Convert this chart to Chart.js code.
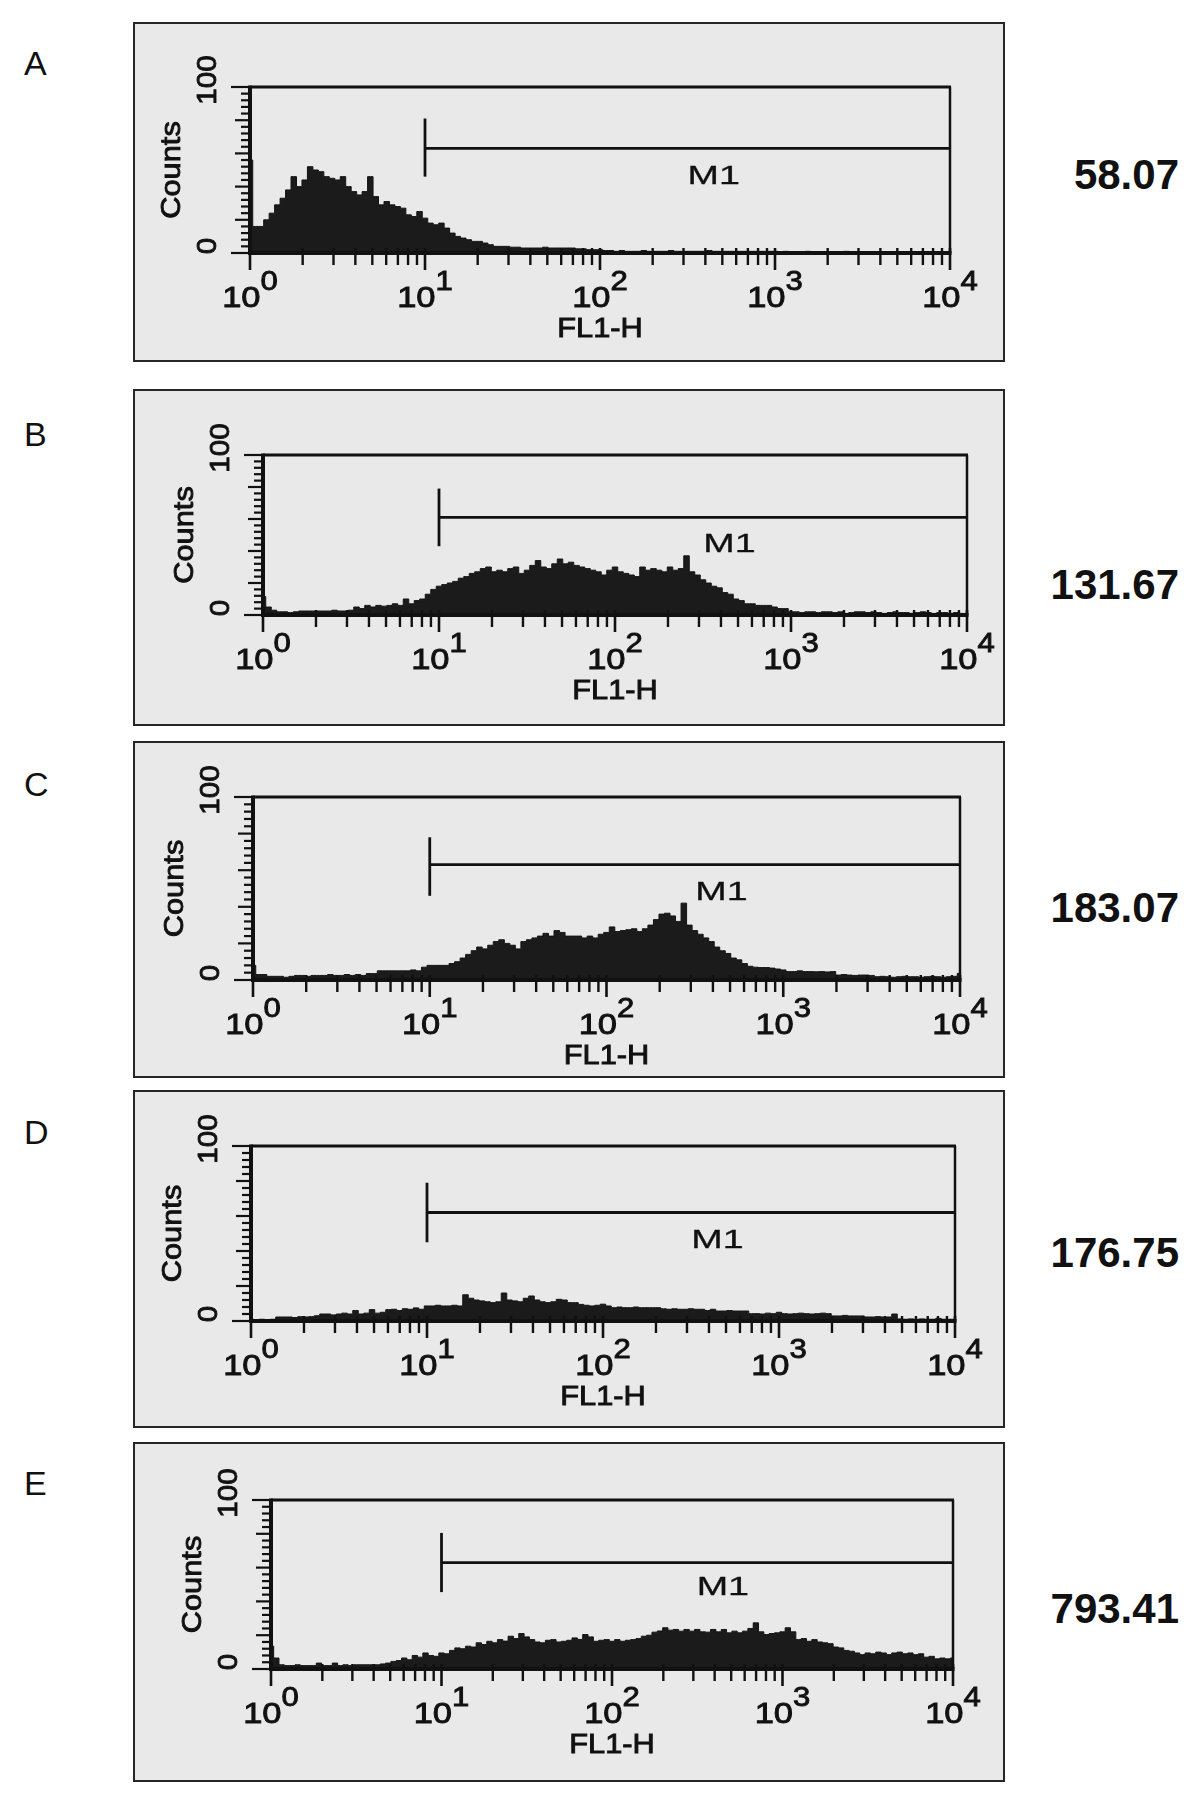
<!DOCTYPE html>
<html>
<head>
<meta charset="utf-8">
<title>FL1-H histograms</title>
<script src="https://cdn.jsdelivr.net/npm/chart.js@4.4.1/dist/chart.umd.min.js"></script>
<style>
  html, body { margin: 0; padding: 0; background: #fff; }
  body { position: relative; width: 1200px; height: 1802px; overflow: hidden;
         font-family: "Liberation Sans", Arial, Helvetica, sans-serif; color: #111; }
  .frame { position: absolute; left: 133px; width: 872px; box-sizing: border-box;
           border: 2px solid #262626; background: #e9e9e9; }
  canvas.panel { position: absolute; left: 133px; }
  .tag { position: absolute; left: 24px; font-size: 34px; line-height: 34px; }
  .val { position: absolute; right: 21px; font-size: 42px; line-height: 42px; font-weight: bold; }
</style>
</head>
<body>
<script>
// panel letters and the mean FL1 value printed to the right of each histogram
const panelLabels = ['A', 'B', 'C', 'D', 'E'];
const meanValues = ['58.07', '131.67', '183.07', '176.75', '793.41'];

// histogram channels (256-channel, 4-decade log amplifier), every 2nd channel
const channels = [
  0, 2, 4, 6, 8, 10, 12, 14, 16, 18, 20, 22, 24, 26, 28, 30,
  32, 34, 36, 38, 40, 42, 44, 46, 48, 50, 52, 54, 56, 58, 60, 62,
  64, 66, 68, 70, 72, 74, 76, 78, 80, 82, 84, 86, 88, 90, 92, 94,
  96, 98, 100, 102, 104, 106, 108, 110, 112, 114, 116, 118, 120, 122, 124, 126,
  128, 130, 132, 134, 136, 138, 140, 142, 144, 146, 148, 150, 152, 154, 156, 158,
  160, 162, 164, 166, 168, 170, 172, 174, 176, 178, 180, 182, 184, 186, 188, 190,
  192, 194, 196, 198, 200, 202, 204, 206, 208, 210, 212, 214, 216, 218, 220, 222,
  224, 226, 228, 230, 232, 234, 236, 238, 240, 242, 244, 246, 248, 250, 252, 254,
  256
];

// counts per channel
const countsA = [
  56, 16, 16, 20, 24, 29, 33, 38, 46, 40, 44,
  52, 50, 49, 46, 45, 44, 46, 40, 37, 35,
  37, 46, 34, 29, 31, 29, 28, 27, 23, 22,
  25, 21, 18, 17, 18, 15, 12, 10, 9, 8,
  7, 7, 6, 5, 4, 4, 4, 3.5, 3.5, 3,
  3, 3, 3, 3.5, 3, 3, 3, 3, 3, 2.5,
  2.5, 2, 2, 2, 1.5, 1.5, 1, 1.5, 1, 1,
  1, 1.5, 1, 1, 1, 1, 1.5, 1, 1, 1,
  1, 1, 1, 1.5, 1, 1, 1, 1, 1, 1,
  1, 1, 1, 1, 1, 1, 0.5, 1, 0.5, 0.5,
  0.5, 1, 0.5, 0.5, 0.5, 0.5, 0.5, 0.5, 1, 0.5,
  0.5, 0.5, 0.5, 0.5, 0.5, 0.5, 0.5, 0.5, 0.5, 0.5,
  0.5, 0.5, 0.5, 0.5, 0.5, 0.5, 0.5, 0.5
];
const countsB = [
  11.5, 5, 3, 2, 2, 1.5, 2, 2.5, 2.5, 2.5, 2.5,
  2.5, 2.5, 3, 2.5, 2.5, 3, 5, 4, 6, 5,
  6, 5.5, 6, 7, 6, 10, 7, 9, 10, 13,
  16, 18, 19, 20, 21, 23, 24, 26, 27, 29,
  30, 27, 28, 27, 29, 30, 26, 28, 31, 34,
  30, 29, 32, 35, 32, 33, 31, 30, 29, 28,
  27, 25, 28, 30, 27, 26, 25, 24, 30, 28,
  29, 28, 27, 30, 28, 29, 37, 27, 25, 22,
  20, 18, 17, 14, 13, 10, 9, 7, 7, 6,
  6, 6, 5, 4, 4, 2, 2, 1.5, 2, 2,
  1.5, 2, 2, 1.5, 2, 1, 1.5, 2, 2, 1.5,
  2, 1.5, 1, 1.5, 2, 1.5, 1.5, 1, 1.5, 2,
  1.5, 1, 1.5, 1.5, 1, 1.5, 1, 1
];
const countsC = [
  8, 3, 3, 2, 2, 2, 1.5, 2, 2.5, 2.5, 2,
  2.5, 2.5, 2.5, 3, 2.5, 2.5, 3, 2.5, 3, 2.5,
  3.5, 3.5, 5, 5, 5, 5, 5, 5, 5.5, 5,
  7, 8, 8, 8, 8, 9, 10, 12, 14, 16,
  18, 17, 19, 21, 22, 20, 19, 17, 21, 22,
  23, 24, 25.5, 24, 27, 26, 24, 24, 24, 23,
  24, 23, 25, 26, 29, 26.5, 27, 27.5, 28, 26.5,
  28, 30, 33, 36, 36.5, 35, 32, 42, 30, 27,
  25, 23, 21, 18, 16, 14.5, 12, 11, 9, 7.5,
  7, 6.8, 6.8, 6.5, 6, 5.5, 4.6, 4.6, 5, 4.6,
  4.6, 4.5, 4.6, 4.4, 4.6, 2.7, 3, 2.7, 2.5, 2.7,
  2.7, 2.5, 1.8, 2, 1.8, 1.5, 1.8, 2, 1.8, 1.8,
  1.5, 1.8, 2, 1.8, 1.5, 1.8, 2, 3.6
];
const countsD = [
  1, 0.5, 1, 0.5, 1, 2.3, 2.3, 2.3, 2, 2.5, 2.3,
  2.5, 3, 4, 4, 3.5, 4, 4.5, 4, 6, 4,
  4.5, 6.5, 4.5, 5, 6.5, 6.7, 6, 7, 6.7, 7.5,
  6.7, 8.6, 8.6, 9, 8.6, 8.6, 9, 8.6, 15, 13,
  12, 11.5, 11, 10.5, 11, 16, 12, 11.5, 11, 13,
  14.3, 12, 11, 10.5, 11, 12.4, 12, 10.5, 10.5, 9.5,
  9, 8.6, 9, 9.6, 8.6, 7.6, 8, 7.6, 7.6, 8,
  7.6, 7.6, 7.6, 7.6, 7, 6.7, 7, 6.7, 6.7, 7,
  6.7, 6.7, 6, 6.7, 5.7, 5.7, 6, 5.7, 5.7, 5.7,
  4.2, 4.2, 4, 4.5, 4.2, 5, 4.2, 4, 4.2, 4.5,
  4.2, 4, 4.2, 4.5, 4.2, 2.9, 2.9, 3.2, 2.9, 2.9,
  2.9, 2.3, 2.3, 2.5, 2.3, 2.3, 4, 1.2, 1, 1.2,
  1, 1.2, 1, 1, 1.5, 1, 1, 1
];
const countsE = [
  13.5, 6.5, 2.5, 2, 2, 2.5, 2, 2, 2, 3.5, 2,
  2, 3.5, 2, 2.5, 2, 2.5, 2.5, 2.5, 2.5, 2.5,
  3, 3.5, 4.5, 5, 6.5, 5.5, 8, 7, 9.5, 8,
  7.5, 9.5, 9, 11, 12.5, 12, 13.5, 13, 15.5, 14.5,
  16.4, 15.5, 17.4, 16.5, 19.4, 18, 21, 19, 17.4, 16,
  15.5, 17, 17.4, 16, 16.4, 17, 18.4, 17.5, 20.4, 19,
  16.4, 17, 17.4, 16.4, 17.4, 16.4, 17, 17.4, 18, 19.4,
  20, 21.8, 22.5, 24.4, 23, 23.4, 22.4, 23.4, 22.4, 23.4,
  22, 21.8, 23.4, 22, 23.4, 21.4, 22.4, 21.4, 22.4, 24,
  27.3, 22, 20.4, 21, 21.4, 22, 24.4, 22, 17.4, 18,
  16.4, 17.4, 16, 15.5, 15, 13, 12.5, 11, 10.5, 9.5,
  8.5, 9.5, 9, 10, 9.5, 8.5, 9.5, 10, 9, 9.5,
  8.5, 9, 7, 7.5, 6, 6.5, 6, 6.5
];
const allCounts = [countsA, countsB, countsC, countsD, countsE];

// M1 marker: FL1-H range, bar height and the vertical end stroke (counts)
const gateFrom = [10, 10, 10, 10, 10];
const gateTo = [10000, 10000, 10000, 10000, 10000];
const gateLevel = [63, 61, 63, 62, 63];
const gateLow = [46, 43, 46, 45, 45.5];
const gateHigh = [81, 79, 78, 79, 80.5];
const gateTextY = [46, 44, 47.5, 46, 48];

// axis tick labels
const decades = [1, 10, 100, 1000, 10000];
const decadeExps = ['0', '1', '2', '3', '4'];
const countLabels = [0, 100];

// page geometry of each panel (frame box and plot box, px)
const layout = [
  { frameTop: 22, frameBottom: 362, left: 250, right: 950, top: 87, bottom: 253, tagY: 63, valY: 175 },
  { frameTop: 389, frameBottom: 726, left: 263, right: 967, top: 455, bottom: 615, tagY: 434, valY: 585 },
  { frameTop: 741, frameBottom: 1078, left: 253, right: 960, top: 797, bottom: 980, tagY: 784, valY: 908 },
  { frameTop: 1090, frameBottom: 1428, left: 251, right: 955, top: 1146, bottom: 1321, tagY: 1132, valY: 1253 },
  { frameTop: 1442, frameBottom: 1782, left: 271, right: 953, top: 1500, bottom: 1669, tagY: 1483, valY: 1609 },
];
const FRAME_LEFT = 133, FRAME_RIGHT = 1005;

const INK = '#111';
const FONT = '"Liberation Sans", Arial, Helvetica, sans-serif';
const SX = 1.15; // the scanned figure's lettering is a bit wide
const HEAVY = 0.9; // extra stroke to match the heavy scanned lettering

// log amplifier: channel -> FL1-H
const fl1 = channels.map(ch => Math.pow(10, ch / 64));

function seg(ctx, x1, y1, x2, y2, w) {
  ctx.lineWidth = w;
  ctx.beginPath();
  ctx.moveTo(x1, y1);
  ctx.lineTo(x2, y2);
  ctx.stroke();
}

function ink(ctx, str, x, y, heavy) {
  ctx.fillText(str, x, y);
  if (heavy > 0) {
    ctx.lineWidth = heavy;
    ctx.strokeText(str, x, y);
  }
}

function text(ctx, str, x, y, size, stretch, rotate, heavy = HEAVY) {
  ctx.save();
  ctx.translate(x, y);
  if (rotate) ctx.rotate(-Math.PI / 2);
  ctx.scale(stretch, 1);
  ctx.font = size + 'px ' + FONT;
  ctx.textAlign = 'center';
  ctx.textBaseline = 'middle';
  ink(ctx, str, 0, 0, heavy);
  ctx.restore();
}

// "10" with a raised exponent, centred on the tick
function powerLabel(ctx, px, axisY, exp) {
  ctx.save();
  ctx.font = '30px ' + FONT;
  const wb = ctx.measureText('10').width;
  ctx.font = '27px ' + FONT;
  const we = ctx.measureText(exp).width;
  const x0 = px - (wb + we) * SX / 2;
  ctx.translate(x0, axisY + 54);
  ctx.scale(SX, 1);
  ctx.textAlign = 'left';
  ctx.textBaseline = 'alphabetic';
  ctx.font = '30px ' + FONT;
  ink(ctx, '10', 0, 0, HEAVY);
  ctx.font = '27px ' + FONT;
  ink(ctx, exp, wb, -17, HEAVY);
  ctx.restore();
}

const facsAxes = {
  id: 'facsAxes',
  afterDatasetsDraw(chart, args, opts) {
    const { ctx, chartArea: a, scales: { x, y } } = chart;
    ctx.save();
    ctx.strokeStyle = INK;
    ctx.fillStyle = INK;
    ctx.lineCap = 'butt';

    // plot box
    seg(ctx, a.left, a.top, a.right + 1, a.top, 3);
    seg(ctx, a.right, a.top, a.right, a.bottom, 2.5);
    seg(ctx, a.left, a.top - 1.5, a.left, a.bottom + 2, 4);
    seg(ctx, a.left - 2, a.bottom, a.right + 1.5, a.bottom, 4);

    // x ticks: every integer multiple within each decade
    decades.forEach((d, k) => {
      const px = x.getPixelForValue(d);
      seg(ctx, px, a.bottom - 5, px, a.bottom + 17, 2.6);
      if (k < decades.length - 1) {
        for (let m = 2; m <= 9; m++) {
          const p = x.getPixelForValue(d * m);
          seg(ctx, p, a.bottom - 5, p, a.bottom + 12, 2.4);
        }
      }
      powerLabel(ctx, px, a.bottom, decadeExps[k]);
    });

    // y ruler
    for (let c = 0; c <= 100; c += 4) {
      const py = y.getPixelForValue(c);
      const len = (c === 0 || c === 100) ? 19 : (c % 20 === 0 ? 15 : 9);
      seg(ctx, a.left - len, py, a.left, py, 2.2);
    }
    countLabels.forEach(c => {
      text(ctx, String(c), a.left - 41, y.getPixelForValue(c) - 7, 27, 1.1, true);
    });

    // axis titles
    text(ctx, 'Counts', a.left - 78, (a.top + a.bottom) / 2, 28, 1.1, true);
    text(ctx, 'FL1-H', (a.left + a.right) / 2, a.bottom + 76, 28, 1.1, false);

    // marker name
    text(ctx, 'M1', x.getPixelForValue(opts.textX), y.getPixelForValue(opts.textY), 26, 1.45, false, 0.3);
    ctx.restore();
  }
};

function buildPanel(i) {
  const g = layout[i];
  const h = g.frameBottom - g.frameTop;

  const frame = document.createElement('div');
  frame.className = 'frame';
  frame.style.top = g.frameTop + 'px';
  frame.style.height = h + 'px';
  document.body.appendChild(frame);

  const tag = document.createElement('div');
  tag.className = 'tag';
  tag.textContent = panelLabels[i];
  tag.style.top = (g.tagY - 17) + 'px';
  document.body.appendChild(tag);

  const val = document.createElement('div');
  val.className = 'val';
  val.textContent = meanValues[i];
  val.style.top = (g.valY - 21) + 'px';
  document.body.appendChild(val);

  const canvas = document.createElement('canvas');
  canvas.className = 'panel';
  canvas.width = FRAME_RIGHT - FRAME_LEFT;
  canvas.height = h;
  canvas.style.top = g.frameTop + 'px';
  document.body.appendChild(canvas);

  const counts = allCounts[i];
  new Chart(canvas.getContext('2d'), {
    type: 'line',
    data: {
      datasets: [
        {
          data: fl1.map((v, k) => ({ x: v, y: counts[k] })),
          stepped: 'middle',
          fill: 'origin',
          backgroundColor: '#1b1b1b',
          borderColor: '#141414',
          borderWidth: 1,
          pointRadius: 0
        },
        {
          data: [{ x: gateFrom[i], y: gateLevel[i] }, { x: gateTo[i], y: gateLevel[i] }],
          borderColor: INK,
          borderWidth: 2.8,
          pointRadius: 0,
          fill: false
        },
        {
          data: [{ x: gateFrom[i], y: gateLow[i] }, { x: gateFrom[i], y: gateHigh[i] }],
          borderColor: INK,
          borderWidth: 2.8,
          pointRadius: 0,
          fill: false
        }
      ]
    },
    options: {
      responsive: false,
      animation: false,
      devicePixelRatio: 1,
      layout: {
        padding: {
          left: g.left - FRAME_LEFT,
          right: FRAME_RIGHT - g.right,
          top: g.top - g.frameTop,
          bottom: g.frameBottom - g.bottom
        }
      },
      plugins: {
        legend: { display: false },
        tooltip: { enabled: false },
        facsAxes: { textX: 447, textY: gateTextY[i] }
      },
      scales: {
        x: { type: 'logarithmic', min: 1, max: 10000, display: false },
        y: { type: 'linear', min: 0, max: 100, display: false }
      }
    },
    plugins: [facsAxes]
  });
}

for (let i = 0; i < layout.length; i++) {
  buildPanel(i);
}
</script>
</body>
</html>
